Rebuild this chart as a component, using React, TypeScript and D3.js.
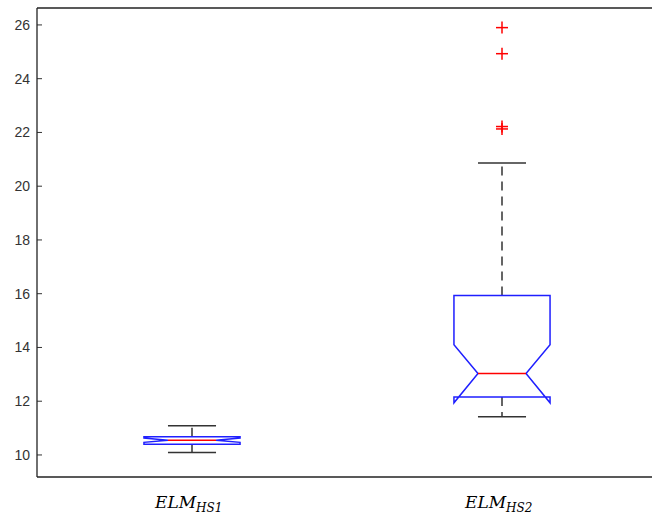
import React from "react";
import * as d3 from "d3";

const categories = ["HS1", "HS2"];
const lowerWhisker = [10.09, 11.42];
const q1 = [10.4, 12.16];
const median = [10.55, 13.03];
const q3 = [10.68, 15.93];
const upperWhisker = [11.09, 20.86];
const notchLo = [10.47, 11.94];
const notchHi = [10.63, 14.1];
const outliers: number[][] = [[], [25.9, 24.93, 22.13, 22.22]];
const yTicks = [10, 12, 14, 16, 18, 20, 22, 24, 26];

const W = 652;
const H = 520;
const left = 37;
const right = 657;
const top = 8;
const bottom = 477;

export default function App() {
  const y = d3.scaleLinear().domain([9.18, 26.63]).range([bottom, top]);
  const x = d3.scaleLinear().domain([0.5, 2.5]).range([left, right]);
  const bw = x(1.155) - x(1); // half box width
  const cw = bw / 2;
  return (
    <svg width={W} height={H} style={{ position: "absolute", left: 0, top: 0, background: "#fff" }}>
      <rect x={0} y={0} width={W} height={H} fill="#fff" />
      {categories.map((c, i) => {
        const cx = x(i + 1);
        const pts: [number, number][] = [
          [cx - bw, y(q1[i])],
          [cx - bw, y(notchLo[i])],
          [cx - cw, y(median[i])],
          [cx - bw, y(notchHi[i])],
          [cx - bw, y(q3[i])],
          [cx + bw, y(q3[i])],
          [cx + bw, y(notchHi[i])],
          [cx + cw, y(median[i])],
          [cx + bw, y(notchLo[i])],
          [cx + bw, y(q1[i])],
        ];
        const line = d3.line();
        return (
          <g key={c}>
            <line x1={cx} x2={cx} y1={y(q3[i])} y2={y(upperWhisker[i])} stroke="#333" strokeWidth={1.5} strokeDasharray="9,6" />
            <line x1={cx} x2={cx} y1={y(q1[i])} y2={y(lowerWhisker[i])} stroke="#333" strokeWidth={1.5} strokeDasharray="9,6" />
            <line x1={cx - cw} x2={cx + cw} y1={y(upperWhisker[i])} y2={y(upperWhisker[i])} stroke="#333" strokeWidth={1.5} />
            <line x1={cx - cw} x2={cx + cw} y1={y(lowerWhisker[i])} y2={y(lowerWhisker[i])} stroke="#333" strokeWidth={1.5} />
            <path d={line(pts)! + "Z"} fill="none" stroke="#1f1fff" strokeWidth={1.5} />
            <line x1={cx - cw} x2={cx + cw} y1={y(median[i])} y2={y(median[i])} stroke="#ff0000" strokeWidth={1.5} />
            {outliers[i].map((v, j) => (
              <g key={j} stroke="#ff0000" strokeWidth={1.5}>
                <line x1={cx - 6} x2={cx + 6} y1={y(v)} y2={y(v)} />
                <line x1={cx} x2={cx} y1={y(v) - 6} y2={y(v) + 6} />
              </g>
            ))}
            <text x={cx - 37} y={508} fontFamily="'DejaVu Serif', serif" fontStyle="italic" fontSize={17} fill="#000">
              ELM
              <tspan fontSize={12} dy={4}>{c}</tspan>
            </text>
          </g>
        );
      })}
      {yTicks.map((t) => (
        <g key={t}>
          <line x1={left} x2={left + 5} y1={y(t)} y2={y(t)} stroke="#333" strokeWidth={1} />
          <line x1={right - 5} x2={right} y1={y(t)} y2={y(t)} stroke="#333" strokeWidth={1} />
          <text x={30} y={y(t) + 5} textAnchor="end" fontFamily="'Liberation Sans', Arial, sans-serif" fontSize={14} fill="#333">{t}</text>
        </g>
      ))}
      <line x1={left} x2={right} y1={top} y2={top} stroke="#222" strokeWidth={1.3} />
      <line x1={left} x2={right} y1={bottom} y2={bottom} stroke="#222" strokeWidth={1.3} />
      <line x1={left} x2={left} y1={top} y2={bottom} stroke="#222" strokeWidth={1.3} />
      <line x1={right} x2={right} y1={top} y2={bottom} stroke="#222" strokeWidth={1.3} />
    </svg>
  );
}
